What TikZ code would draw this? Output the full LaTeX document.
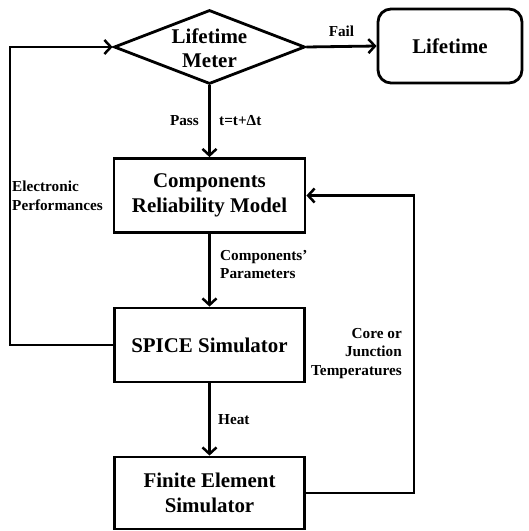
\documentclass[tikz,border=0pt]{standalone}
\usepackage{fontspec}
\setmainfont{Liberation Serif}
\usetikzlibrary{shapes.geometric,arrows.meta}
\begin{document}
\begin{tikzpicture}[x=1bp,y=-1bp,
  every node/.style={font=\bfseries},
  boxtext/.style={font=\fontsize{21}{24.5}\selectfont\bfseries,align=center},
  lbl/.style={font=\fontsize{15.3}{18.5}\selectfont\bfseries,inner sep=0pt},
  blk/.style={draw,line width=2.8bp,minimum width=191bp,minimum height=74bp,inner sep=0pt,boxtext},
  conn/.style={line width=2.8bp,-{Straight Barb[length=6.5bp,width=14bp,line width=2.5bp]}}]
\useasboundingbox (0,0) rectangle (529,531);
\node[diamond,draw,line width=2.8bp,minimum width=191bp,minimum height=74bp,inner sep=0pt] (lm) at (209.5,47) {};
\node[boxtext] (lmt) at (209.5,48) {Lifetime\\Meter};
\node[blk,rounded corners=13bp,minimum width=144bp] (lt) at (450,46) {Lifetime};
\node[blk] (crm) at (209.5,195.5) {Components\\Reliability Model};
\node[blk,minimum width=190bp] (spice) at (209.5,345) {SPICE Simulator};
\node[blk,minimum width=190bp,minimum height=72bp] (fes) at (209.5,493) {Finite Element\\Simulator};
\coordinate (lc) at (10,0);
\coordinate (rc) at (414,0);
\draw[conn] (lm.east) -- (lt.west) node[lbl,midway,above=8bp] (fail) {Fail};
\draw[conn] (lm.south) -- (crm.north);
\node[lbl,anchor=east] (pass) at (199,121) {Pass};
\node[lbl,anchor=west] (tt) at (219,121) {t=t+Δt};
\draw[conn] (crm.south) -- (spice.north);
\node[lbl,anchor=west,align=left] (cp) at (220,264.5) {Components'\\Parameters};
\draw[conn] (spice.south) -- (fes.north);
\node[lbl,anchor=west] (heat) at (218,420) {Heat};
\draw[conn] (spice.west) -- (lc |- spice.west) -- (lc |- lm.west) -- (lm.west);
\node[lbl,anchor=west,align=left] (ep) at (12,196) {Electronic\\Performances};
\draw[conn] (fes.east) -- (rc |- fes.east) -- (rc |- crm.east) -- (crm.east);
\node[lbl,anchor=east,align=right] (cj) at (402,353.5) {Core or\\Junction\\Temperatures};
\end{tikzpicture}
\end{document}
